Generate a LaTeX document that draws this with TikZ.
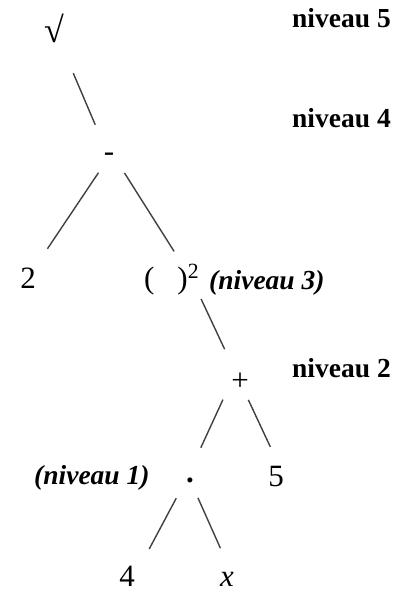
\documentclass[tikz,border=0pt]{standalone}
\usepackage{fontspec}
\setmainfont{Liberation Serif}
\usetikzlibrary{calc}
\tikzset{
  arbre/.style={inner sep=0pt, font=\fontsize{31}{36}\selectfont},
  niveau/.style={inner sep=0pt, anchor=base west, font=\fontsize{27.5}{32}\selectfont\bfseries},
  niveauit/.style={niveau, font=\fontsize{27.5}{32}\selectfont\bfseries\itshape},
  branche/.style={line width=1.4pt, draw=black!75}
}
\begin{document}
\begin{tikzpicture}[x=1pt,y=-1pt]
\useasboundingbox (0,0) rectangle (396,593);

% operateurs et feuilles
\node[arbre, font=\fontsize{36}{40}\selectfont] (racine) at (54,28) {√};
\node[arbre] (moins) at (109,157) {-};
\node[arbre, anchor=base] (deux) at (28,288) {2};
\node[arbre, anchor=base west] (carre) at (144,288) {(\hspace{23pt})\textsuperscript{2}};
\node[arbre] (plus) at (240,382) {+};
\node[arbre] (point) at (190,480) {\textbf{.}};
\node[arbre, anchor=base] (cinq) at (276,486) {5};
\node[arbre, anchor=base] (quatre) at (127,586) {4};
\node[arbre, anchor=base] (xvar) at (227,586) {\textit{x}};

% niveaux
\node[niveau] (n5) at (292,28) {niveau 5};
\node[niveau] (n4) at (292,128) {niveau 4};
\node[niveauit] (n3) at (209,289) {(niveau 3)};
\node[niveau] (n2) at (292,377) {niveau 2};
\node[niveauit] (n1) at (34,484) {(niveau 1)};

% branches
\draw[branche] ($(racine)!0.35!(moins)$) -- ($(racine)!0.75!(moins)$);
\draw[branche] ($(moins)!0.13!(deux)$) -- ($(moins)!0.76!(deux)$);
\draw[branche] ($(moins.east)!0.13!([xshift=48pt]carre.west)$) -- ($(moins.east)!0.77!([xshift=48pt]carre.west)$);
\draw[branche] ($([xshift=48pt]carre.west)!0.19!(plus)$) -- ($([xshift=48pt]carre.west)!0.68!(plus)$);
\draw[branche] ($(plus.west)!0.18!(point.west)$) -- ($(plus.west)!0.67!(point.west)$);
\draw[branche] ($(plus)!0.19!(cinq.east)$) -- ($(plus)!0.69!(cinq.east)$);
\draw[branche] ($(point.west)!0.19!(quatre.east)$) -- ($(point.west)!0.72!(quatre.east)$);
\draw[branche] ($(point)!0.18!(xvar.east)$) -- ($(point)!0.69!(xvar.east)$);
\end{tikzpicture}
\end{document}
